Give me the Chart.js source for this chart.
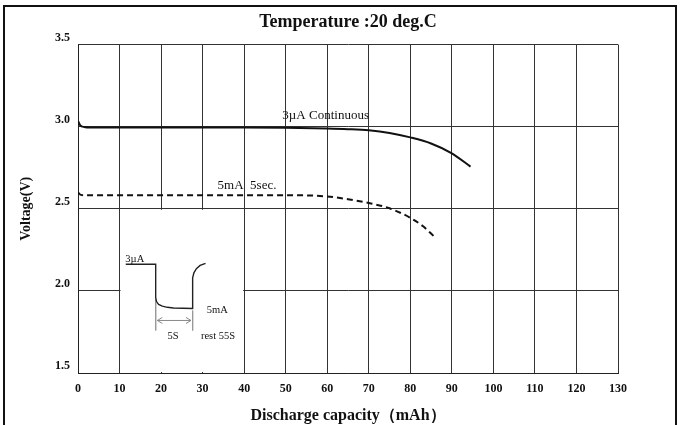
<!DOCTYPE html>
<html>
<head>
<meta charset="utf-8">
<script src="https://cdn.jsdelivr.net/npm/chart.js@4.4.1/dist/chart.umd.min.js"></script>
<style>
html,body{margin:0;padding:0;background:#fff;}
#wrap{position:relative;width:683px;height:425px;overflow:hidden;}
#frame{position:absolute;left:3px;top:5px;width:674px;height:440px;border:2px solid #111;box-sizing:border-box;}
canvas{position:absolute;left:0;top:0;}
</style>
</head>
<body>
<div id="wrap"><div id="frame"></div><canvas id="myChart" width="683" height="425"></canvas></div>
<script>
// datos
const etiquetasX = [0, 10, 20, 30, 40, 50, 60, 70, 80, 90, 100, 110, 120, 130];
const etiquetasY = [1.5, 2.0, 2.5, 3.0, 3.5];

const capacidad3uA = [0, 0.5, 1.5, 3, 10, 20, 30, 40, 50, 60, 65, 70, 75, 80, 85, 90, 94.5];
const voltaje3uA = [3.035, 3.01, 2.998, 2.995, 2.995, 2.995, 2.995, 2.995, 2.993, 2.989, 2.985, 2.978, 2.962, 2.935, 2.898, 2.838, 2.757];

const capacidad5mA = [0, 0.7, 2, 10, 20, 30, 40, 50, 60, 65, 70, 75, 80, 83, 86];
const voltaje5mA = [2.60, 2.585, 2.582, 2.582, 2.582, 2.582, 2.583, 2.583, 2.575, 2.558, 2.535, 2.503, 2.445, 2.395, 2.325];

// esquema del pulso (recuadro)
const pulsoX = [11.5, 18.7, 18.7, 18.9, 19.4, 20.3, 21.5, 23, 27.6, 27.6, 27.9, 28.5, 29.4, 30.7];
const pulsoY = [2.162, 2.162, 1.96, 1.935, 1.918, 1.907, 1.9, 1.896, 1.893, 2.08, 2.11, 2.135, 2.155, 2.168];
const guiaIzqX = [18.7, 18.7], guiaIzqY = [1.95, 1.759];
const guiaDerX = [27.6, 27.6], guiaDerY = [1.88, 1.759];
const flechaX = [19.1, 27.2], flechaY = [1.82, 1.82];

const anotaciones = [
    {texto: '3µA Continuous', x: 49.2, y: 3.07, size: 13, align: 'left'},
    {texto: '5mA  5sec.', x: 33.6, y: 2.64, size: 13, align: 'left'},
    {texto: '3µA', x: 11.4, y: 2.19, size: 10.5, align: 'left'},
    {texto: '5mA', x: 31, y: 1.88, size: 10.5, align: 'left'},
    {texto: '5S', x: 22.9, y: 1.723, size: 10.5, align: 'center'},
    {texto: 'rest 55S', x: 33.7, y: 1.723, size: 10.5, align: 'center'}
];

const puntos = (xs, ys) => xs.map((x, i) => ({x: x, y: ys[i]}));
const serif = 'Liberation Serif';

// recuadro blanco sin rejilla, textos y puntas de flecha
const pluginRecuadro = {
    id: 'recuadro',
    beforeDatasetsDraw(chart) {
        const {ctx, scales: {x, y}} = chart;
        ctx.save();
        ctx.fillStyle = '#fff';
        const x1 = x.getPixelForValue(10) + 1, x2 = x.getPixelForValue(40) - 1;
        const y1 = y.getPixelForValue(2.5) + 1, y2 = y.getPixelForValue(1.5) - 1;
        ctx.fillRect(x1, y1, x2 - x1, y2 - y1);
        ctx.restore();
    },
    afterDatasetsDraw(chart) {
        const {ctx, scales: {x, y}} = chart;
        ctx.save();
        ctx.fillStyle = '#111';
        ctx.textBaseline = 'middle';
        anotaciones.forEach(a => {
            ctx.font = a.size + 'px "' + serif + '"';
            ctx.textAlign = a.align;
            ctx.fillText(a.texto, x.getPixelForValue(a.x), y.getPixelForValue(a.y));
        });
        // puntas de flecha
        ctx.strokeStyle = '#888';
        ctx.lineWidth = 1;
        const ay = y.getPixelForValue(flechaY[0]);
        const ax1 = x.getPixelForValue(flechaX[0]), ax2 = x.getPixelForValue(flechaX[1]);
        ctx.beginPath();
        ctx.moveTo(ax1 + 5, ay - 3); ctx.lineTo(ax1, ay); ctx.lineTo(ax1 + 5, ay + 3);
        ctx.moveTo(ax2 - 5, ay - 3); ctx.lineTo(ax2, ay); ctx.lineTo(ax2 - 5, ay + 3);
        ctx.stroke();
        ctx.restore();
    }
};

const ctx = document.getElementById('myChart').getContext('2d');
const myChart = new Chart(ctx, {
    type: 'line',
    data: {
        datasets: [{
            label: '3µA Continuous',
            data: puntos(capacidad3uA, voltaje3uA),
            borderColor: '#111',
            borderWidth: 2,
            pointRadius: 0,
            cubicInterpolationMode: 'monotone'
        }, {
            label: '5mA 5sec.',
            data: puntos(capacidad5mA, voltaje5mA),
            borderColor: '#111',
            borderWidth: 2,
            borderDash: [6, 4],
            pointRadius: 0,
            cubicInterpolationMode: 'monotone'
        }, {
            label: 'pulso',
            data: puntos(pulsoX, pulsoY),
            borderColor: '#222',
            borderWidth: 1.4,
            pointRadius: 0,
            tension: 0
        }, {
            label: 'guia1',
            data: puntos(guiaIzqX, guiaIzqY),
            borderColor: '#999',
            borderWidth: 1,
            pointRadius: 0
        }, {
            label: 'guia2',
            data: puntos(guiaDerX, guiaDerY),
            borderColor: '#999',
            borderWidth: 1,
            pointRadius: 0
        }, {
            label: 'flecha',
            data: puntos(flechaX, flechaY),
            borderColor: '#888',
            borderWidth: 1,
            pointRadius: 0
        }]
    },
    options: {
        animation: false,
        responsive: false,
        devicePixelRatio: 1,
        layout: {padding: {left: 0, right: 65, top: 0, bottom: 0}},
        plugins: {
            legend: {display: false},
            tooltip: {enabled: false},
            title: {
                display: true,
                fullSize: false,
                text: 'Temperature :20 deg.C',
                color: '#111',
                font: {family: serif, size: 18, weight: 'bold'},
                padding: {top: 12, bottom: 11}
            }
        },
        scales: {
            x: {
                type: 'linear',
                min: 0,
                max: 130,
                afterBuildTicks: s => { s.ticks = etiquetasX.map(v => ({value: v})); },
                afterFit: s => { s.height = 52; },
                grid: {color: '#333', lineWidth: 1, drawTicks: false},
                border: {color: '#222', width: 1},
                ticks: {color: '#111', padding: 9, font: {family: serif, size: 12, weight: 'bold'}, maxRotation: 0},
                title: {
                    display: true,
                    text: 'Discharge capacity（mAh）',
                    color: '#111',
                    font: {family: serif, size: 16, weight: 'bold'},
                    padding: {top: 4, bottom: 0}
                }
            },
            y: {
                type: 'linear',
                min: 1.5,
                max: 3.5,
                afterBuildTicks: s => { s.ticks = etiquetasY.map(v => ({value: v})); },
                afterFit: s => { s.width = 78; },
                grid: {color: '#333', lineWidth: 1, drawTicks: false},
                border: {color: '#222', width: 1},
                ticks: {
                    color: '#111',
                    padding: 8,
                    labelOffset: -7,
                    font: {family: serif, size: 12, weight: 'bold'},
                    callback: v => v.toFixed(1)
                },
                title: {
                    display: true,
                    text: 'Voltage(V)',
                    color: '#111',
                    font: {family: serif, size: 14, weight: 'bold'},
                    padding: {top: 18, bottom: 0}
                }
            }
        }
    },
    plugins: [pluginRecuadro]
});
</script>
</body>
</html>
